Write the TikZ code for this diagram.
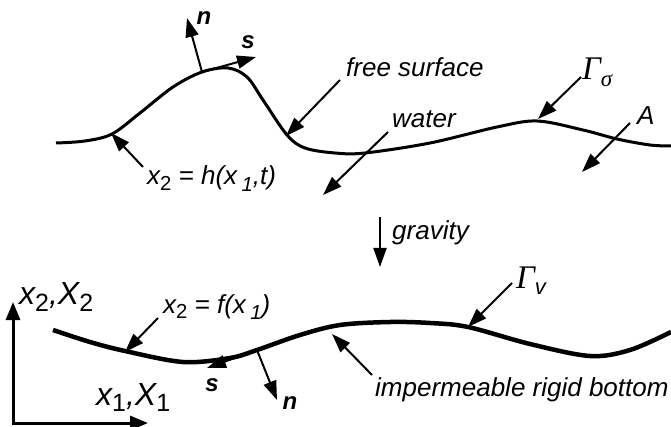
\documentclass[tikz,border=0pt]{standalone}
\usepackage{fontspec}
\setmainfont{Liberation Sans}
\newfontfamily\gfont{Liberation Serif}
\usetikzlibrary{arrows.meta}
\tikzset{
  lbl/.style={inner sep=0pt, anchor=base west, font=\fontsize{26}{30}\selectfont\itshape},
  axlbl/.style={inner sep=0pt, anchor=base west, font=\fontsize{32}{36}\selectfont\itshape},
  vlbl/.style={inner sep=0pt, font=\fontsize{24}{28}\selectfont\bfseries\itshape},
  arr/.style={line width=2pt, -{Triangle[length=19pt,width=13pt]}},
  axis/.style={line width=3pt, -{Triangle[length=18pt,width=14pt]}},
  surf/.style={line width=3pt},
  bed/.style={line width=4.5pt}
}
\newcommand{\usub}[1]{\raisebox{-0.2em}{\scalebox{0.78}{\upshape #1}}}
\newcommand{\isub}[1]{\raisebox{-0.25em}{\scalebox{0.78}{#1}}}
\newcommand{\Gam}{{\gfont\itshape\fontsize{33}{36}\selectfont Γ}}
\begin{document}
\begin{tikzpicture}[x=1pt,y=-1pt]
\useasboundingbox (0,0) rectangle (671,427);
% free surface
\draw[surf] plot[smooth, tension=0.55] coordinates {(56,143) (85,141) (112,134) (140,113) (173,87) (202,72) (228,68) (247,77) (263,100) (287,135) (305,148) (335,153) (365,153) (430,143) (497,127) (537,121) (583,130) (617,139) (650,145) (671,146)};
% bottom
\draw[bed] plot[smooth, tension=0.55] coordinates {(53,330) (90,342) (125,351) (183,362) (230,358) (257,350) (300,335) (340,325) (390,322) (430,323) (468,327) (530,344) (590,356) (630,350) (671,332)};

% coordinates
\coordinate (ptop) at (202,72);
\coordinate (ntip) at (187,18);
\coordinate (stip) at (256,57);
\coordinate (htail) at (143,167);
\coordinate (hhead) at (111,133);
\coordinate (fstail) at (340,80);
\coordinate (fshead) at (286,136);
\coordinate (wtail) at (388,132);
\coordinate (whead) at (323,195);
\coordinate (gstail) at (581,77);
\coordinate (gshead) at (538,119);
\coordinate (atail) at (630,123);
\coordinate (ahead) at (582,172);
\coordinate (grtail) at (380,217);
\coordinate (grhead) at (380,267);
\coordinate (gvtail) at (512,283);
\coordinate (gvhead) at (468,327);
\coordinate (imtail) at (372,375);
\coordinate (imhead) at (332,334);
\coordinate (fftail) at (158,318);
\coordinate (ffhead) at (125,352);
\coordinate (pbot) at (257,350);
\coordinate (sbtip) at (207,368);
\coordinate (nbtip) at (277,400);
\coordinate (origin) at (13,423);
\coordinate (yax) at (13,302);
\coordinate (xax) at (148,423);

% labels
\node[vlbl] (nt) at (204,18) {n};
\node[vlbl] (st) at (248,42) {s};
\node[lbl] (hl) at (147,185) {x\usub{2} = h(x\,\isub{1},t)};
\node[lbl] (fsl) at (346,77) {free surface};
\node[lbl] (wl) at (392,128) {water};
\node[lbl] (gsl) at (582,80) {\Gam\raisebox{-7pt}{\gfont\itshape\fontsize{23}{26}\selectfont σ}};
\node[lbl] (al) at (637,125) {A};
\node[lbl] (grl) at (392,240) {gravity};
\node[lbl] (gvl) at (516,288) {\Gam\raisebox{-6pt}{\fontsize{22}{24}\selectfont v}};
\node[lbl] (ffl) at (163,313) {x\usub{2} = f(x\,\isub{1})};
\node[lbl] (iml) at (375,396) {impermeable rigid bottom};
\node[vlbl] (sb) at (212,385) {s};
\node[vlbl] (nb) at (290,403) {n};
\node[axlbl] (x2l) at (19,305) {x\usub{2},X\usub{2}};
\node[axlbl] (x1l) at (96,405) {x\usub{1},X\usub{1}};

% arrows
\draw[arr] (ptop) -- (ntip);
\draw[arr] (ptop) -- (stip);
\draw[arr] (htail) -- (hhead);
\draw[arr] (fstail) -- (fshead);
\draw[arr] (wtail) -- (whead);
\draw[arr] (gstail) -- (gshead);
\draw[arr] (atail) -- (ahead);
\draw[arr] (grtail) -- (grhead);
\draw[arr] (gvtail) -- (gvhead);
\draw[arr] (imtail) -- (imhead);
\draw[arr] (fftail) -- (ffhead);
\draw[arr] (pbot) -- (sbtip);
\draw[arr] (pbot) -- (nbtip);
\draw[axis] ([yshift=1.5pt]origin) -- (yax);
\draw[axis] ([xshift=-1.5pt]origin) -- (xax);
\end{tikzpicture}
\end{document}
